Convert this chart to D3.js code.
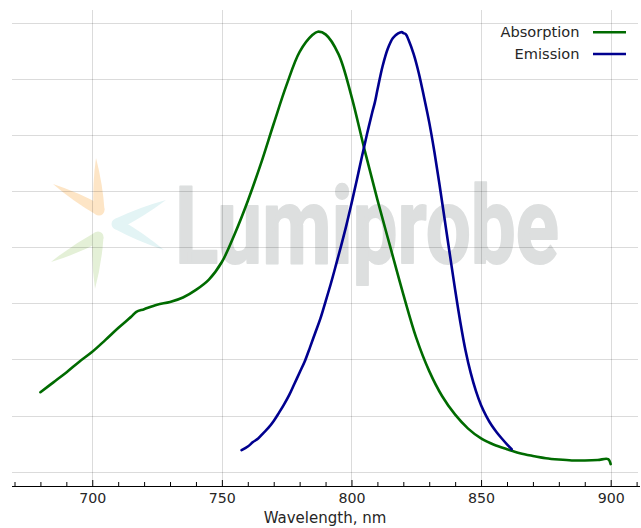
<!DOCTYPE html>
<html><head><meta charset="utf-8">
<script src="https://cdn.jsdelivr.net/npm/d3@7"></script>
<style>html,body{margin:0;padding:0;background:#fff}svg{display:block}</style>
</head><body><svg id="chart" width="641" height="528"></svg>
<script>
// ---- data ----
const absWavelength = [680,685,690,695,700,705,710,715,717,720,725,730,735,740,745,750,755,760,765,770,775,780,785,787,790,795,800,805,810,815,820,825,830,835,840,845,850,855,860,865,870,875,880,885,890,895,899,900];
const absorption    = [0.177,0.199,0.221,0.245,0.267,0.293,0.320,0.345,0.356,0.362,0.372,0.378,0.388,0.405,0.428,0.467,0.530,0.603,0.685,0.775,0.862,0.935,0.973,0.980,0.974,0.930,0.836,0.718,0.606,0.500,0.395,0.298,0.224,0.168,0.127,0.096,0.074,0.060,0.050,0.041,0.035,0.030,0.027,0.025,0.025,0.026,0.028,0.017];
const emWavelength  = [757.6,760,762,764,766,768,770,772,774,776,778,780,782,784,786,788,790,792,794,796,798,800,802,804,806,808,809,810,812,814,816,818,819.4,820,821,822,824,826,828,830,832,834,836,838,840,842,844,846,848,850,852,854,856,858,860,861.8];
const emission      = [0.048,0.056,0.066,0.074,0.086,0.098,0.113,0.131,0.150,0.171,0.196,0.221,0.246,0.277,0.309,0.341,0.379,0.418,0.460,0.503,0.548,0.597,0.648,0.701,0.752,0.800,0.822,0.850,0.903,0.942,0.966,0.976,0.979,0.977,0.974,0.962,0.930,0.887,0.834,0.778,0.712,0.638,0.560,0.482,0.405,0.333,0.270,0.220,0.180,0.148,0.124,0.104,0.088,0.074,0.061,0.050];
const seriesNames   = ["Absorption", "Emission"];
const seriesColors  = ["#006b00", "#00008f"];
const xMajorTicks   = [700, 750, 800, 850, 900];
const xMinorTicks   = [670,680,690,710,720,730,740,760,770,780,790,810,820,830,840,860,870,880,890,910];
const yGridTicks    = [0, 0.125, 0.25, 0.375, 0.5, 0.625, 0.75, 0.875, 1];
const xLabel        = "Wavelength, nm";
const watermarkText = "Lumiprobe";

// ---- layout ----
const W = 641, H = 528;
const plotLeft = 12, plotRight = 638, plotTop = 10, axisY = 486;
const x = d3.scaleLinear().domain([670, 910]).range([14.5, 636.6]);
const y = d3.scaleLinear().domain([0, 1]).range([471.7, 22.7]);
const font = "'DejaVu Sans', sans-serif";

const svg = d3.select("#chart");
svg.append("rect").attr("width", W).attr("height", H).attr("fill", "#fff");

// ---- watermark ----
const wm = svg.append("g");
function arm(J, T, w) {
  const dx = T[0]-J[0], dy = T[1]-J[1], L = Math.hypot(dx, dy);
  const nx = -dy/L*w, ny = dx/L*w;
  const mx = J[0]+dx*0.5, my = J[1]+dy*0.5;
  return `M${J[0]+nx},${J[1]+ny} Q${mx+nx*0.95},${my+ny*0.95} ${T[0]},${T[1]} Q${mx-nx*0.95},${my-ny*0.95} ${J[0]-nx},${J[1]-ny} Z`;
}
function petal(J, T1, T2, w, color) {
  const g = wm.append("g").attr("fill", color);
  g.append("path").attr("d", arm(J, T1, w));
  g.append("path").attr("d", arm(J, T2, w));
  g.append("circle").attr("cx", J[0]).attr("cy", J[1]).attr("r", w);
}
petal([99, 210], [53, 184], [96, 158], 5.5, "#fde5c6");
petal([98, 237], [51, 262], [95, 289], 5.5, "#e4f0d7");
petal([117, 224], [166, 200], [164, 250], 5.5, "#e3f4f5");

wm.append("text")
  .attr("x", 175).attr("y", 263)
  .attr("textLength", 384).attr("lengthAdjust", "spacingAndGlyphs")
  .style("font-family", "Roboto, sans-serif").style("font-weight", 700)
  .style("font-size", "107px")
  .attr("fill", "#dddfdf").attr("stroke", "#dddfdf").attr("stroke-width", 2)
  .attr("stroke-linejoin", "round")
  .text(watermarkText);

// ---- grid ----
const grid = svg.append("g").attr("stroke", "rgba(0,0,0,0.14)").attr("stroke-width", 1);
grid.selectAll("line.h").data(yGridTicks).join("line").attr("class", "h")
  .attr("x1", plotLeft).attr("x2", plotRight)
  .attr("y1", d => Math.round(y(d)) + 0.5).attr("y2", d => Math.round(y(d)) + 0.5);
grid.selectAll("line.v").data(xMajorTicks).join("line").attr("class", "v")
  .attr("x1", d => Math.round(x(d)) + 0.5).attr("x2", d => Math.round(x(d)) + 0.5)
  .attr("y1", plotTop).attr("y2", axisY);

// ---- x axis ----
const axG = svg.append("g").attr("transform", `translate(0,${axisY})`);
axG.append("line").attr("x1", plotLeft).attr("x2", 640).attr("y1", 0.5).attr("y2", 0.5)
  .attr("stroke", "#000").attr("stroke-width", 1);
const minorAxis = svg.append("g").attr("transform", `translate(0,${axisY})`)
  .call(d3.axisBottom(x).tickValues(xMinorTicks).tickSizeInner(-4).tickSizeOuter(0).tickFormat(""));
minorAxis.select(".domain").remove();
const majorAxis = svg.append("g").attr("transform", `translate(0,${axisY})`)
  .call(d3.axisBottom(x).tickValues(xMajorTicks).tickSizeInner(-6).tickSizeOuter(0).tickPadding(7).tickFormat(d3.format("d")));
majorAxis.select(".domain").remove();
svg.selectAll(".tick line").attr("stroke", "#000");
majorAxis.selectAll("text").style("font-family", font).style("font-size", "14.2px").attr("fill", "#262626");

svg.append("text").attr("x", 325).attr("y", 522.5)
  .attr("text-anchor", "middle").style("font-family", font).style("font-size", "15px")
  .attr("fill", "#262626").text(xLabel);

// ---- curves ----
const line = d3.line().x(d => x(d[0])).y(d => y(d[1])).curve(d3.curveCatmullRom.alpha(0.5));
const series = [
  d3.zip(absWavelength, absorption),
  d3.zip(emWavelength, emission)
];
svg.selectAll("path.curve").data(series).join("path").attr("class", "curve")
  .attr("d", line).attr("fill", "none")
  .attr("stroke", (d, i) => seriesColors[i]).attr("stroke-width", 2.6)
  .attr("stroke-linejoin", "round").attr("stroke-linecap", "round");

// ---- legend ----
const leg = svg.append("g");
seriesNames.forEach((name, i) => {
  const cy = 32.3 + i * 21.7;
  leg.append("text").attr("x", 579.5).attr("y", cy + 4.8).attr("text-anchor", "end")
    .style("font-family", font).style("font-size", "14.6px").attr("fill", "#262626").text(name);
  leg.append("line").attr("x1", 593).attr("x2", 626).attr("y1", cy).attr("y2", cy)
    .attr("stroke", seriesColors[i]).attr("stroke-width", 2.6);
});
</script></body></html>
